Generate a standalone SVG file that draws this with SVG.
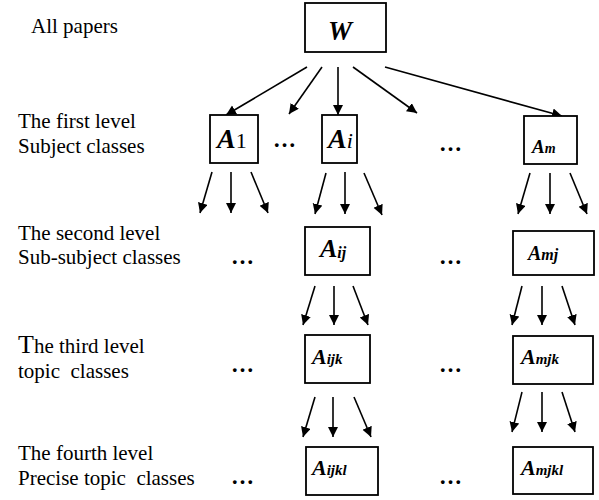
<svg xmlns="http://www.w3.org/2000/svg" width="599" height="500" viewBox="0 0 599 500">
<style>
.lbl{font-family:'Liberation Serif','Times New Roman',serif;font-size:21px;fill:#000}
.box{fill:#fff;stroke:#000;stroke-width:1.8}
.nm{font-family:'Liberation Serif','Times New Roman',serif;font-weight:bold;font-style:italic;fill:#000}
.dots{font-family:'Liberation Serif','Times New Roman',serif;font-weight:bold;font-size:23px;fill:#000}
#connectors line{stroke:#000;stroke-width:1.6;marker-end:url(#ah)}
</style>
<defs>
<marker id="ah" markerUnits="userSpaceOnUse" markerWidth="11" markerHeight="11" refX="10" refY="5" orient="auto">
<path d="M0,0 L10,5 L0,10 z" fill="#000"/>
</marker>
</defs>
<rect width="599" height="500" fill="#fff"/>
<g id="labels">
<text class="lbl" x="31" y="33">All papers</text>
<text class="lbl" x="18" y="128">The first level</text>
<text class="lbl" x="18" y="153">Subject classes</text>
<text class="lbl" x="18" y="240">The second level</text>
<text class="lbl" x="18" y="264">Sub-subject classes</text>
<text class="lbl" x="18" y="353"><tspan font-size="26">T</tspan>he third level</text>
<text class="lbl" x="18" y="378" xml:space="preserve">topic  classes</text>
<text class="lbl" x="18" y="460">The fourth level</text>
<text class="lbl" x="18" y="485" xml:space="preserve">Precise topic  classes</text>
</g>
<g id="dots">
<text class="dots" x="273" y="147">…</text>
<text class="dots" x="439" y="151">…</text>
<text class="dots" x="231" y="264">…</text>
<text class="dots" x="439" y="264">…</text>
<text class="dots" x="231" y="372">…</text>
<text class="dots" x="439" y="372">…</text>
<text class="dots" x="231" y="484">…</text>
<text class="dots" x="439" y="484">…</text>
</g>
<g id="connectors">
<line x1="307" y1="67" x2="226" y2="115"/>
<line x1="322" y1="67" x2="289" y2="114"/>
<line x1="338" y1="67" x2="338" y2="115"/>
<line x1="353" y1="67" x2="417" y2="113"/>
<line x1="385" y1="67" x2="562" y2="116"/>
<line x1="212" y1="172" x2="200" y2="213"/>
<line x1="231" y1="172" x2="231" y2="213"/>
<line x1="251" y1="172" x2="268" y2="213"/>
<line x1="326" y1="173" x2="315" y2="214"/>
<line x1="345" y1="172" x2="345" y2="214"/>
<line x1="364" y1="173" x2="382" y2="215"/>
<line x1="530" y1="173" x2="518" y2="214"/>
<line x1="550" y1="173" x2="550" y2="214"/>
<line x1="570" y1="173" x2="587" y2="214"/>
<line x1="315" y1="286" x2="303" y2="325"/>
<line x1="334" y1="286" x2="334" y2="325"/>
<line x1="353" y1="286" x2="368" y2="325"/>
<line x1="522" y1="286" x2="512" y2="325"/>
<line x1="542" y1="286" x2="542" y2="325"/>
<line x1="562" y1="286" x2="575" y2="325"/>
<line x1="315" y1="397" x2="303" y2="437"/>
<line x1="333" y1="397" x2="333" y2="437"/>
<line x1="354" y1="397" x2="371" y2="437"/>
<line x1="522" y1="392" x2="512" y2="432"/>
<line x1="542" y1="392" x2="542" y2="432"/>
<line x1="562" y1="392" x2="575" y2="432"/>
</g>
<g id="W">
<rect class="box" x="305" y="3" width="81" height="49"/>
<text class="nm" x="340" y="40" font-size="27" text-anchor="middle">W</text>
</g>
<g id="A1">
<rect class="box" x="210" y="115" width="48" height="48"/>
<text class="nm" x="217" y="148" font-size="28">A<tspan font-weight="normal" font-style="normal" font-size="22">1</tspan></text>
</g>
<g id="Ai">
<rect class="box" x="322" y="115" width="35" height="48"/>
<text class="nm" x="328" y="148" font-size="28">A<tspan font-weight="normal" font-size="22">i</tspan></text>
</g>
<g id="Am">
<rect class="box" x="524" y="116" width="53" height="48"/>
<text class="nm" x="532" y="153" font-size="19">A<tspan font-size="14">m</tspan></text>
</g>
<g id="Aij">
<rect class="box" x="305" y="227" width="65" height="48"/>
<text class="nm" x="320" y="257" font-size="26">A<tspan font-size="16" dy="1">ij</tspan></text>
</g>
<g id="Amj">
<rect class="box" x="513" y="231" width="81" height="44"/>
<text class="nm" x="528" y="260" font-size="20">A<tspan font-size="16">mj</tspan></text>
</g>
<g id="Aijk">
<rect class="box" x="305" y="335" width="65" height="48"/>
<text class="nm" x="312" y="364" font-size="22">A<tspan font-size="15">ijk</tspan></text>
</g>
<g id="Amjk">
<rect class="box" x="513" y="336" width="80" height="48"/>
<text class="nm" x="521" y="364" font-size="22">A<tspan font-size="15">mjk</tspan></text>
</g>
<g id="Aijkl">
<rect class="box" x="306" y="447" width="72" height="48"/>
<text class="nm" x="312" y="475" font-size="22">A<tspan font-size="15">ijkl</tspan></text>
</g>
<g id="Amjkl">
<rect class="box" x="513" y="447" width="80" height="47"/>
<text class="nm" x="521" y="475" font-size="22">A<tspan font-size="15">mjkl</tspan></text>
</g>
</svg>
